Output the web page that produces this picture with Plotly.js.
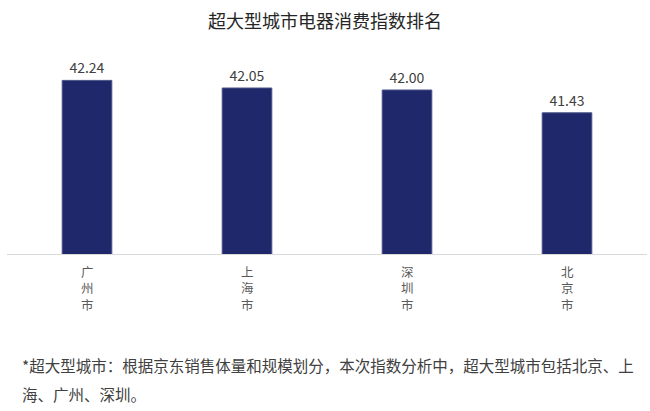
<!DOCTYPE html>
<html>
<head>
<meta charset="utf-8">
<script src="https://cdn.plot.ly/plotly-3.0.1.min.js"></script>
<style>html,body{margin:0;padding:0;background:#fff;}#chart{width:650px;height:411px;}</style>
</head>
<body>
<div id="chart"></div>
<script>
const cities = ['广州市', '上海市', '深圳市', '北京市'];
const values = [42.24, 42.05, 42.00, 41.43];
const titleText = '超大型城市电器消费指数排名';
const noteLine1 = '*超大型城市：根据京东销售体量和规模划分，本次指数分析中，超大型城市包括北京、上';
const noteLine2 = '海、广州、深圳。';

const font = '"Noto Sans CJK SC", "Noto Sans", sans-serif';

// vertical (stacked) category labels
const catAnnotations = cities.map(c => ({
  text: Array.from(c).join('<br>'), xref: 'x', yref: 'paper', x: c, y: 0,
  yanchor: 'middle', xanchor: 'center', yshift: -33.5, showarrow: false, borderpad: 0,
  font: {family: font, size: 12.5, color: '#595959'}
}));

Plotly.newPlot('chart', [{
  type: 'bar',
  x: cities,
  y: values,
  marker: {color: '#1f286b', line: {color: '#4a5388', width: 1}},
  text: values.map(v => v.toFixed(2)),
  textposition: 'outside',
  textfont: {family: font, size: 14, color: '#404040'},
  cliponaxis: false,
  hoverinfo: 'none'
}], {
  width: 650, height: 411,
  margin: {l: 7, r: 3, t: 60, b: 157},
  paper_bgcolor: '#fff', plot_bgcolor: '#fff',
  bargap: 0.69,
  showlegend: false,
  title: {text: titleText, font: {family: font, size: 18, color: '#262626'}, x: 0.5, xanchor: 'center', y: 0.947, yanchor: 'middle'},
  xaxis: {
    showticklabels: false,
    showline: true, linecolor: '#d9d9d9', linewidth: 1,
    ticks: '', showgrid: false, zeroline: false, fixedrange: true
  },
  yaxis: {
    range: [37.9, 42.75], visible: false, showgrid: false, zeroline: false, fixedrange: true
  },
  annotations: catAnnotations.concat([
    {text: noteLine1, xref: 'paper', yref: 'paper', x: 0.02, xanchor: 'left', y: -0.572, yanchor: 'middle', showarrow: false, font: {family: font, size: 15.5, color: '#404040'}},
    {text: noteLine2, xref: 'paper', yref: 'paper', x: 0.02, xanchor: 'left', y: -0.722, yanchor: 'middle', showarrow: false, font: {family: font, size: 15.5, color: '#404040'}}
  ])
}, {displayModeBar: false, staticPlot: true});
</script>
</body>
</html>
